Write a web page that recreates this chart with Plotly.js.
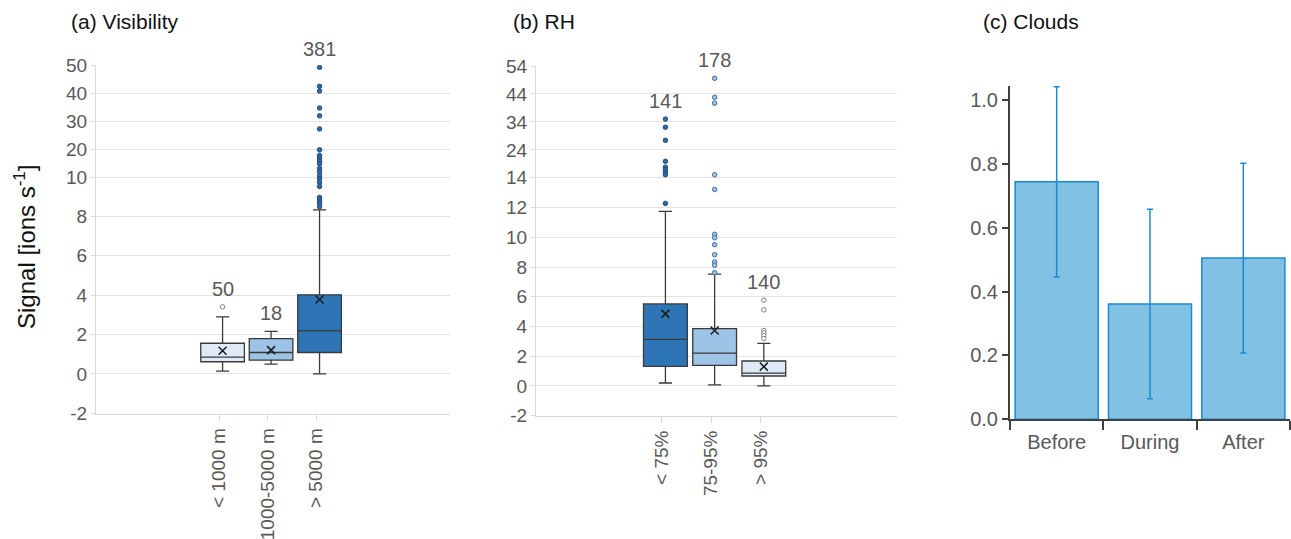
<!DOCTYPE html>
<html><head><meta charset="utf-8">
<script src="https://cdn.plot.ly/plotly-3.0.1.min.js"></script>
<style>html,body{margin:0;padding:0;background:#fff}#chart{width:1291px;height:539px}</style>
</head><body><div id="chart"></div><script>
// ---------- Panel (a) Visibility ----------
const visCategories = ['< 1000 m', '1000-5000 m', '> 5000 m'];
const visCounts = [50, 18, 381];
const visQ1 = [0.62, 0.70, 1.09];
const visMedian = [0.85, 1.09, 2.19];
const visQ3 = [1.56, 1.79, 4.02];
const visLower = [0.14, 0.50, 0.0];
const visUpper = [2.90, 2.16, 8.34];
const visMean = [1.18, 1.21, 3.78];
const visOutliers = [
  [3.41],
  [],
  [49.4, 42.6, 40.9, 34.8, 32.0, 27.3, 19.8, 17.8, 16.8, 15.7, 14.8, 13.1, 11.9, 10.5, 9.91, 9.72, 9.52, 8.97, 8.82, 8.67, 8.49]
];
const visTicks = [-2, 0, 2, 4, 6, 8, 10, 20, 30, 40, 50];

// ---------- Panel (b) RH ----------
const rhCategories = ['< 75%', '75-95%', '> 95%'];
const rhCounts = [141, 178, 140];
const rhQ1 = [1.32, 1.38, 0.67];
const rhMedian = [3.13, 2.21, 0.87];
const rhQ3 = [5.52, 3.85, 1.68];
const rhLower = [0.20, 0.07, 0.0];
const rhUpper = [11.74, 7.52, 2.86];
const rhMean = [4.85, 3.73, 1.30];
const rhOutliers = [
  [35.0, 32.1, 27.4, 19.9, 17.8, 16.9, 15.9, 15.1, 12.28],
  [49.6, 42.8, 40.7, 15.1, 13.22, 10.2, 9.97, 9.50, 8.83, 8.34, 8.12, 7.62],
  [5.77, 5.12, 3.73, 3.56, 3.38, 3.19]
];
const rhTicks = [-2, 0, 2, 4, 6, 8, 10, 12, 14, 24, 34, 44, 54];

// ---------- Panel (c) Clouds ----------
const cloudCategories = ['Before', 'During', 'After'];
const cloudValues = [0.744, 0.361, 0.505];
const cloudErrors = [0.298, 0.297, 0.297];

// ---------- broken-axis transforms ----------
const brkA = 10, sclA = 0.1415;
const brkB = 14, sclB = 0.188;
const tA = v => v <= brkA ? v : brkA + (v - brkA) * sclA;
const tB = v => v <= brkB ? v : brkB + (v - brkB) * sclB;

const fillA = ['#deebf7', '#9dc3e6', '#2e75b6'];
const fillB = ['#2e75b6', '#9dc3e6', '#deebf7'];
const outEdgeA = ['#7f7f7f', '#41719c', '#1f4e79'];
const outEdgeB = ['#1f4e79', '#41719c', '#7f7f7f'];
const outFillA = ['#ffffff', '#9dc3e6', '#2e6aa8'];
const outFillB = ['#2e6aa8', '#9dc3e6', '#ffffff'];

const FAM = 'Arial, Liberation Sans, sans-serif';
const gray = '#595959';
const traces = [];
const annotations = [];

function addPanel(cats, counts, q1, med, q3, lo, up, mean, outs, tf, xa, ya, fills, outFill, outEdge, bw) {
  cats.forEach((c, i) => {
    traces.push({
      type: 'box', xaxis: xa, yaxis: ya, x: [i],
      q1: [tf(q1[i])], median: [tf(med[i])], q3: [tf(q3[i])],
      lowerfence: [tf(lo[i])], upperfence: [tf(up[i])],
      width: bw, whiskerwidth: 0.3, boxpoints: false,
      fillcolor: fills[i], line: {color: '#3a3a3a', width: 1.3},
      showlegend: false, hoverinfo: 'skip'
    });
    if (outs[i].length) {
      traces.push({
        type: 'scatter', mode: 'markers', xaxis: xa, yaxis: ya,
        x: outs[i].map(() => i), y: outs[i].map(tf),
        marker: {size: 4.5, color: outFill[i], line: {color: outEdge[i], width: 1}},
        showlegend: false, hoverinfo: 'skip'
      });
    }
    traces.push({
      type: 'scatter', mode: 'markers', xaxis: xa, yaxis: ya,
      x: [i], y: [tf(mean[i])],
      marker: {symbol: 'x-thin-open', size: 8, color: '#1a1a1a', line: {color: '#1a1a1a', width: 1.5}},
      showlegend: false, hoverinfo: 'skip'
    });
    const top = Math.max(up[i], ...outs[i]);
    annotations.push({
      xref: xa, yref: ya, x: i, y: tf(top), text: String(counts[i]),
      showarrow: false, yanchor: 'bottom', yshift: 5,
      font: {family: FAM, size: 20, color: gray}
    });
  });
}

addPanel(visCategories, visCounts, visQ1, visMedian, visQ3, visLower, visUpper, visMean, visOutliers, tA, 'x', 'y', fillA, outFillA, outEdgeA, 0.9);
addPanel(rhCategories, rhCounts, rhQ1, rhMedian, rhQ3, rhLower, rhUpper, rhMean, rhOutliers, tB, 'x2', 'y2', fillB, outFillB, outEdgeB, 0.89);

traces.push({
  type: 'bar', xaxis: 'x3', yaxis: 'y3',
  x: cloudCategories, y: cloudValues,
  marker: {color: '#80c1e4', line: {color: '#1b8bd0', width: 1.5}},
  error_y: {type: 'data', array: cloudErrors, visible: true, color: '#1b8bd0', thickness: 1.5, width: 3},
  showlegend: false, hoverinfo: 'skip'
});

const W = 1291, H = 539;
const px = v => v / W, py = v => 1 - v / H;

function titleAnn(text, x) {
  return {xref: 'paper', yref: 'paper', x: px(x), y: py(21), xanchor: 'left', yanchor: 'middle',
    text: text, showarrow: false, font: {family: FAM, size: 21, color: '#111111'}};
}
annotations.push(titleAnn('(a) Visibility', 69));
annotations.push(titleAnn('(b) RH', 511));
annotations.push(titleAnn('(c) Clouds', 981));
annotations.push({xref: 'paper', yref: 'paper', x: px(25), y: py(247), xanchor: 'center', yanchor: 'middle',
  text: 'Signal [ions s<sup>-1</sup>]', textangle: -90, showarrow: false, font: {family: FAM, size: 24, color: '#111111'}});

const tickFont = {family: FAM, size: 19, color: gray};
const light = '#d9d9d9';

function boxX(domain, range, cats) {
  return {domain: domain, range: range, tickvals: cats.map((c, i) => i - 0.07), ticktext: cats,
    tickangle: -90, ticks: 'outside', ticklen: 6, tickcolor: light, showline: true, linecolor: light,
    showgrid: false, zeroline: false, tickfont: {family: FAM, size: 19, color: gray}, fixedrange: true};
}
function boxY(domain, ticks, tf, anchor) {
  return {domain: domain, anchor: anchor, range: [tf(ticks[0]) - 0.02, tf(ticks[ticks.length - 1]) + 0.02],
    tickvals: ticks.map(tf), ticktext: ticks.map(String), showgrid: true, gridcolor: '#e3e3e3', gridwidth: 1,
    showline: true, linecolor: light, zeroline: false, ticks: 'outside', ticklen: 4, tickcolor: light,
    tickfont: tickFont, fixedrange: true};
}

const layout = {
  width: W, height: H, margin: {l: 0, r: 0, t: 0, b: 0},
  paper_bgcolor: '#ffffff', plot_bgcolor: 'rgba(0,0,0,0)',
  font: {family: FAM, color: gray},
  showlegend: false, bargap: 0.11,
  xaxis: Object.assign(boxX([px(96), px(450)], [-2.61, 4.69], visCategories), {anchor: 'y'}),
  yaxis: boxY([py(413.7), py(65.3)], visTicks, tA, 'x'),
  xaxis2: Object.assign(boxX([px(536), px(896.7)], [-2.63, 4.70], rhCategories), {anchor: 'y2'}),
  yaxis2: boxY([py(416), py(65.7)], rhTicks, tB, 'x2'),
  xaxis3: {domain: [px(1010), px(1290)], anchor: 'y3', type: 'category', tickson: 'boundaries',
    ticks: 'outside', ticklen: 9, tickwidth: 2, tickcolor: '#404040', showline: true, linecolor: '#404040',
    linewidth: 2, showgrid: false, zeroline: false, ticklabelstandoff: 4,
    tickfont: {family: FAM, size: 20, color: gray}, fixedrange: true},
  yaxis3: {domain: [py(419.3), py(86)], anchor: 'x3', range: [0, 1.044], dtick: 0.2, tick0: 0, tickformat: '.1f',
    showline: true, linecolor: '#404040', linewidth: 2, ticks: 'outside', ticklen: 6, tickwidth: 2, tickcolor: '#404040',
    showgrid: false, zeroline: false, tickfont: {family: FAM, size: 20, color: gray}, fixedrange: true},
  annotations: annotations
};

Plotly.newPlot('chart', traces, layout, {displayModeBar: false, staticPlot: true});
</script></body></html>
